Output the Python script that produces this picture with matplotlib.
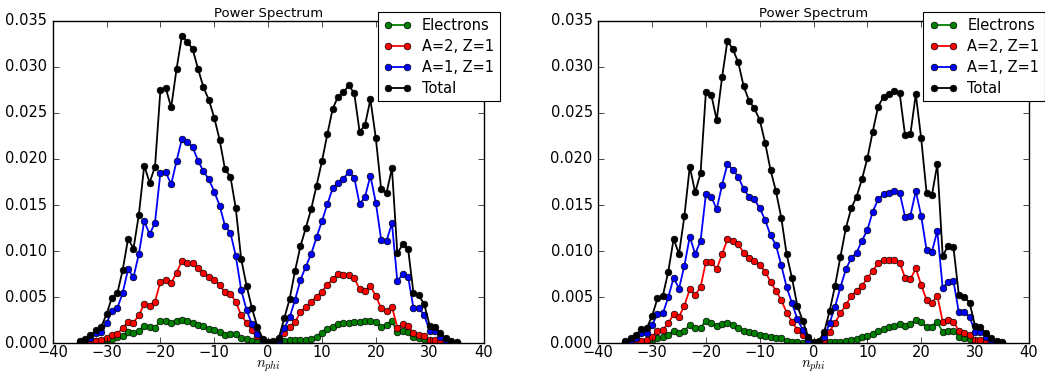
import numpy as np
import matplotlib
matplotlib.use("Agg")
import matplotlib.pyplot as plt
from matplotlib.ticker import FormatStrFormatter, MultipleLocator

plt.style.use('classic')
plt.rcParams['font.size'] = 10.5
plt.rcParams['mathtext.fontset'] = 'cm'

n_phi = list(range(-35, 36))

# values in units of 1e-3
left_electrons = [0.05, 0.1, 0.15, 0.2, 0.25, 0.36, 0.51, 0.65, 0.8, 1.19, 1.08, 1.34, 1.92, 1.81, 1.7,
                  2.42, 2.39, 2.24, 2.42, 2.53, 2.42, 2.24, 1.99, 1.88, 1.59, 1.45, 1.19, 0.94, 1.05, 1.01,
                  0.55, 0.42, 0.3, 0.15, 0.06, 0.02, 0.05, 0.12, 0.25, 0.36, 0.38, 0.36, 0.36, 0.43,
                  0.72, 1.16, 1.52, 1.74, 2.1, 2.17, 2.24, 2.35, 2.31, 2.39, 2.46, 2.28, 1.81, 1.99, 2.39,
                  1.23, 1.34, 1.19, 0.72, 0.61, 0.43, 0.18, 0.12, 0.08, 0.05, 0.03, 0.02]
left_a2z1 = [0.05, 0.1, 0.2, 0.29, 0.36, 0.54, 0.94, 1.05, 1.63, 2.35, 2.24, 3.04, 4.27, 4.09, 4.52,
             6.69, 6.87, 6.51, 7.67, 8.93, 8.72, 8.68, 8.21, 7.67, 7.23, 6.91, 6.29, 5.53, 5.35, 4.52,
             3.04, 2.24, 1.45, 0.75, 0.25, 0.05, 0.08, 0.25, 1.08, 1.81, 2.28, 3.4, 3.91, 4.48,
             5.06, 5.61, 6.37, 6.94, 7.52, 7.45, 7.41, 7.09, 5.86, 5.71, 6.22, 5.14, 3.8, 3.51, 3.98,
             1.7, 2.06, 1.92, 1.08, 0.9, 0.8, 0.36, 0.33, 0.18, 0.1, 0.05, 0.03]
left_a1z1 = [0.1, 0.36, 0.6, 1.08, 1.19, 2.17, 3.51, 3.8, 5.5, 8.03, 7.16, 9.69, 13.27, 11.83, 13.09,
             18.52, 18.55, 17.25, 19.78, 22.2, 21.88, 21.27, 19.78, 18.66, 17.79, 16.46, 14.94, 12.73, 12.0, 9.48,
             5.79, 3.62, 2.06, 0.98, 0.3, 0.08, 0.1, 0.36, 1.63, 2.82, 4.7, 6.87, 8.32, 9.69,
             11.5, 13.27, 15.08, 16.82, 17.43, 17.87, 18.59, 17.97, 15.08, 15.91, 18.16, 15.26, 11.25, 11.14, 13.02,
             6.73, 7.52, 7.23, 3.8, 3.8, 3.07, 1.34, 1.34, 0.72, 0.36, 0.15, 0.05]
left_total = [0.3, 0.5, 0.87, 1.4, 1.74, 3.18, 4.95, 5.42, 7.96, 11.36, 10.27, 13.96, 19.28, 17.43, 19.17,
              27.45, 27.67, 25.6, 29.76, 33.38, 32.73, 31.9, 29.73, 27.78, 26.4, 24.48, 22.06, 18.88, 18.08, 14.65,
              9.15, 6.26, 3.8, 1.8, 0.5, 0.15, 0.2, 0.6, 2.71, 4.81, 7.85, 10.52, 12.51, 14.57,
              17.11, 19.75, 22.68, 25.46, 26.76, 27.23, 27.99, 27.12, 22.93, 23.69, 26.47, 22.28, 16.71, 16.35, 18.99,
              9.76, 10.74, 10.23, 5.42, 5.21, 4.23, 1.92, 1.81, 1.08, 0.54, 0.29, 0.1]

right_electrons = [0.03, 0.06, 0.1, 0.14, 0.18, 0.36, 0.54, 0.65, 0.9, 1.34, 1.16, 1.34, 1.99, 1.63, 1.7,
                   2.42, 2.17, 1.88, 2.06, 2.24, 1.99, 1.7, 1.34, 1.19, 1.08, 0.94, 0.8, 0.65, 0.54, 0.54,
                   0.29, 0.18, 0.11, 0.06, 0.03, 0.02, 0.03, 0.05, 0.11, 0.11, 0.18, 0.25, 0.36, 0.51,
                   0.65, 0.8, 0.98, 1.34, 1.52, 1.74, 1.92, 2.06, 1.88, 2.06, 2.53, 2.28, 1.74, 1.81, 2.35,
                   1.19, 1.34, 1.34, 0.72, 0.61, 0.43, 0.29, 0.15, 0.08, 0.05, 0.03, 0.02]
right_a2z1 = [0.05, 0.15, 0.29, 0.29, 0.36, 0.72, 1.34, 1.45, 2.17, 3.18, 2.89, 4.09, 5.86, 5.24, 6.08,
              8.86, 8.86, 8.03, 9.69, 11.28, 11.14, 10.74, 9.84, 9.29, 8.97, 8.5, 7.78, 6.69, 5.71, 4.7,
              3.33, 2.35, 1.45, 0.9, 0.3, 0.05, 0.08, 0.36, 1.27, 2.24, 3.25, 4.16, 5.14, 5.68,
              6.26, 7.05, 7.88, 8.68, 9.04, 9.04, 9.04, 8.75, 7.12, 6.94, 8.14, 6.33, 4.7, 4.41, 5.14,
              2.35, 2.53, 2.35, 1.34, 1.08, 0.9, 0.36, 0.36, 0.18, 0.1, 0.05, 0.03]
right_a1z1 = [0.1, 0.3, 0.55, 1.08, 1.08, 1.99, 3.18, 3.25, 4.99, 7.12, 5.93, 8.43, 11.57, 9.69, 11.1,
              16.2, 15.91, 14.54, 17.18, 19.46, 18.81, 18.08, 16.75, 15.91, 15.62, 14.65, 13.38, 11.72, 10.67, 8.5,
              6.08, 4.34, 2.6, 1.45, 0.4, 0.08, 0.12, 0.65, 2.24, 3.98, 6.08, 8.03, 9.22, 9.84,
              11.14, 12.3, 14.29, 15.62, 16.17, 16.35, 16.56, 16.35, 13.74, 13.85, 16.53, 13.82, 10.13, 9.95, 12.19,
              5.97, 6.69, 6.76, 3.36, 3.36, 2.89, 1.19, 1.19, 0.72, 0.36, 0.15, 0.05]
right_total = [0.25, 0.54, 0.95, 1.52, 1.63, 2.97, 4.88, 5.17, 7.78, 11.32, 9.69, 13.82, 19.17, 16.38, 18.44,
               27.31, 26.94, 24.23, 28.86, 32.84, 31.9, 30.49, 27.92, 26.33, 25.5, 24.23, 21.77, 18.81, 16.53, 13.63,
               9.66, 7.05, 4.05, 2.42, 0.7, 0.15, 0.25, 1.27, 3.54, 6.26, 9.4, 12.48, 14.65, 15.91,
               17.83, 20.07, 22.97, 25.68, 26.76, 27.02, 27.41, 27.12, 22.6, 22.71, 27.02, 22.24, 16.35, 16.09, 19.42,
               9.48, 10.56, 10.42, 5.24, 5.06, 4.41, 1.88, 1.81, 1.08, 0.54, 0.29, 0.11]

labels = ['Electrons', 'A=2, Z=1', 'A=1, Z=1', 'Total']
colors = ['g', 'r', 'b', 'k']
x_ticks = [-40, -30, -20, -10, 0, 10, 20, 30, 40]

fig = plt.figure(figsize=(10.45, 3.76), dpi=100, facecolor='white')
W, H = 1045.0, 376.0
axL = fig.add_axes([52.7 / W, 1 - 343.3 / H, 430.8 / W, 322.6 / H])
axR = fig.add_axes([598.3 / W, 1 - 343.3 / H, 430.5 / W, 322.6 / H])

panels = [(axL, [left_electrons, left_a2z1, left_a1z1, left_total]),
          (axR, [right_electrons, right_a2z1, right_a1z1, right_total])]

for ax, series in panels:
    ax.set_facecolor('white')
    for vals, lab, col in zip(series, labels, colors):
        ax.plot(n_phi, np.array(vals) * 1e-3, '-o', color=col, label=lab,
                lw=1.3, ms=4.8, mec='k', mew=0.5)
    ax.set_xlim(-40, 40)
    ax.set_ylim(0, 0.035)
    ax.set_xticks(x_ticks)
    ax.yaxis.set_major_locator(MultipleLocator(0.005))
    ax.yaxis.set_major_formatter(FormatStrFormatter('%.3f'))
    ax.tick_params(labelsize=10.5, direction='in', top=True, right=True, length=4)
    ax.tick_params(axis='x', pad=1.5)
    ax.set_title('Power Spectrum', fontsize=9.5, pad=3)
    ax.set_xlabel(r'$n_{phi}$', fontsize=10.5, labelpad=-1)
    leg = ax.legend(loc='upper right', bbox_to_anchor=(1.038, 1.026), borderaxespad=0,
                    numpoints=2, fontsize=10.5, handlelength=1.9, handletextpad=0.7,
                    borderpad=0.4, labelspacing=0.4, fancybox=False)
    leg.get_frame().set_linewidth(0.8)
    leg.set_zorder(10)

fig.savefig('out.png', dpi=100, facecolor='white')
